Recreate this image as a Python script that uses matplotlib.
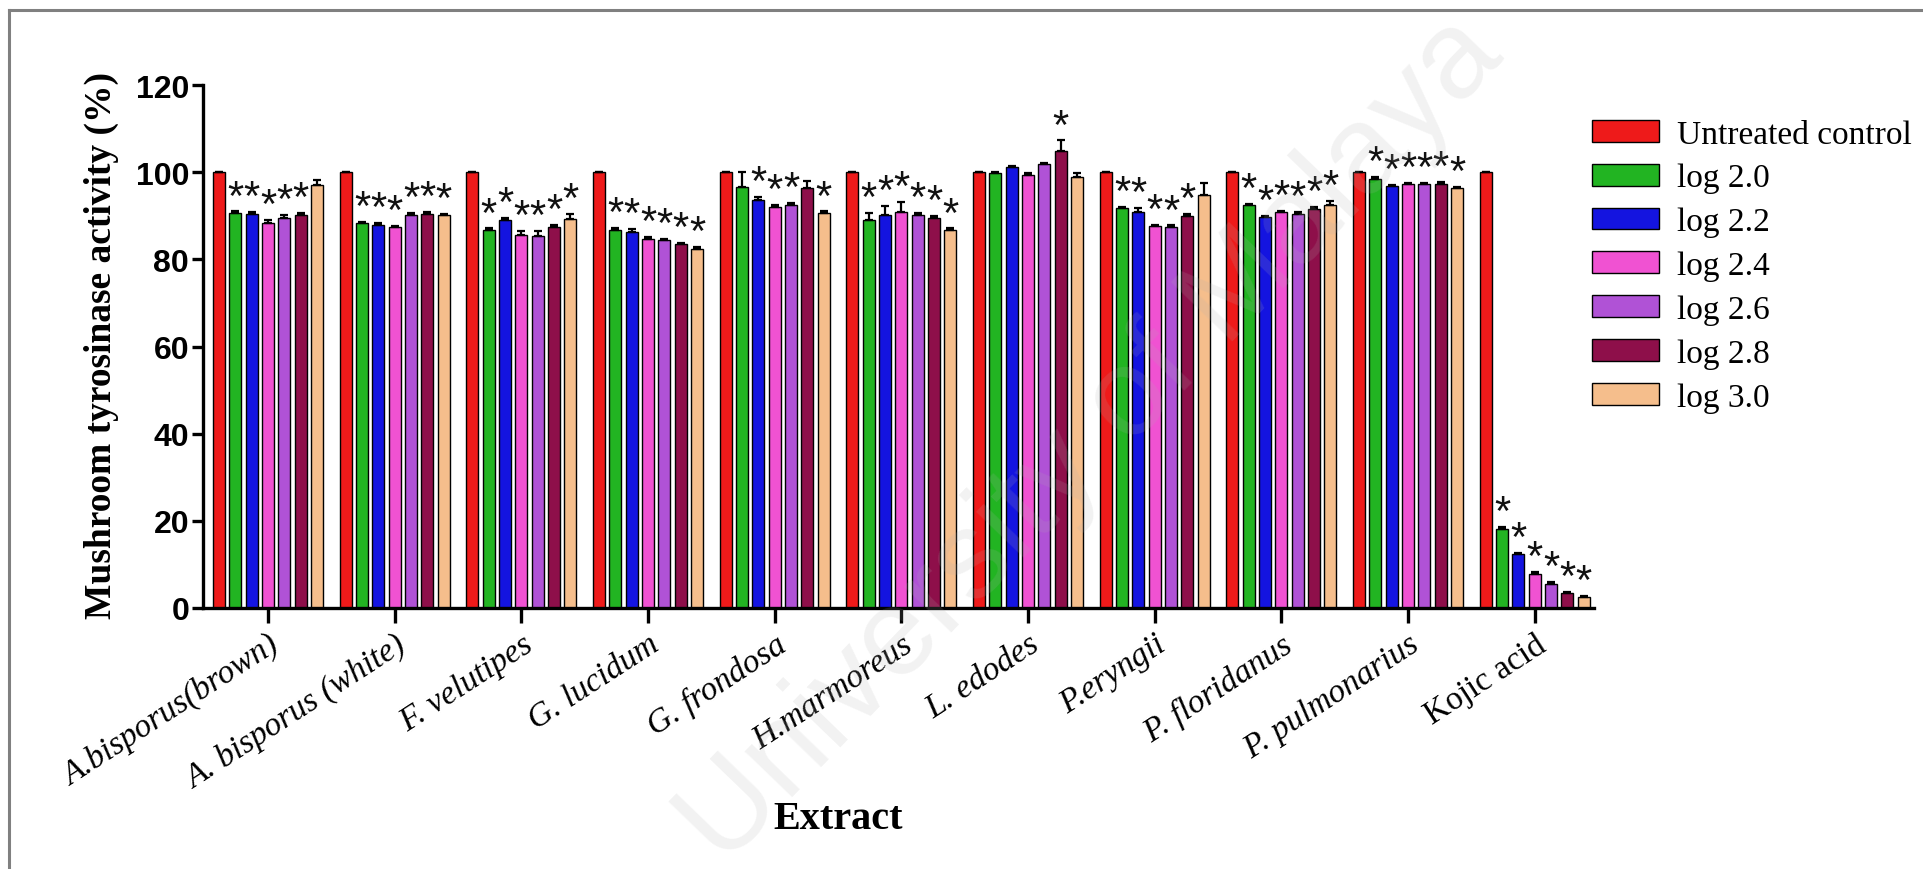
import matplotlib.pyplot as plt
import numpy as np
from matplotlib.lines import Line2D
from matplotlib.transforms import ScaledTranslation

# extracts on the x axis
extracts = ['A.bisporus(brown)', 'A. bisporus (white)', 'F. velutipes', 'G. lucidum',
            'G. frondosa', 'H.marmoreus', 'L. edodes', 'P.eryngii', 'P. floridanus',
            'P. pulmonarius', 'Kojic acid']
series = ['Untreated control', 'log 2.0', 'log 2.2', 'log 2.4', 'log 2.6', 'log 2.8', 'log 3.0']
colors = ['#EE1A1A', '#22B422', '#1414E0', '#F052D2', '#B052D6', '#8E0F4A', '#F5BE8C']

# mean activity (%) per series, one value per extract
control = [100, 100, 100, 100, 100, 100, 100, 100, 100, 100, 100]
log20 = [90.6, 88.3, 86.7, 86.8, 96.6, 89.1, 99.8, 91.7, 92.4, 98.5, 18.2]
log22 = [90.4, 88.0, 89.1, 86.4, 93.6, 90.3, 101.1, 90.8, 89.7, 96.8, 12.3]
log24 = [88.4, 87.4, 85.7, 84.7, 92.1, 90.9, 99.4, 87.6, 90.8, 97.2, 7.9]
log26 = [89.5, 90.2, 85.3, 84.4, 92.5, 90.1, 102.0, 87.5, 90.4, 97.2, 5.6]
log28 = [90.3, 90.5, 87.5, 83.5, 96.4, 89.5, 104.8, 90.0, 91.6, 97.4, 3.4]
log30 = [97.0, 90.1, 89.3, 82.4, 90.6, 86.7, 98.9, 94.8, 92.5, 96.3, 2.5]

# error bars (SEM, upper side only)
err_control = [0, 0, 0, 0, 0, 0, 0, 0, 0, 0, 0]
err20 = [0.4, 0.4, 0.4, 0.5, 3.5, 1.5, 0.3, 0.3, 0.4, 0.5, 0.4]
err22 = [0.4, 0.4, 0.4, 0.5, 0.8, 2.0, 0.4, 1.0, 0.3, 0.3, 0.4]
err24 = [0.6, 0.3, 0.8, 0.4, 0.4, 2.2, 0.4, 0.4, 0.3, 0.3, 0.4]
err26 = [0.6, 0.4, 1.2, 0.3, 0.4, 0.6, 0.2, 0.3, 0.4, 0.3, 0.4]
err28 = [0.4, 0.3, 0.4, 0.3, 1.6, 0.5, 2.5, 0.4, 0.4, 0.4, 0.3]
err30 = [1.2, 0.4, 1.2, 0.4, 0.4, 0.4, 1.0, 2.8, 1.0, 0.4, 0.3]

# significance marks (1 = asterisk)
sig_control = [0, 0, 0, 0, 0, 0, 0, 0, 0, 0, 0]
sig20 = [1, 1, 1, 1, 0, 1, 0, 1, 1, 1, 1]
sig22 = [1, 1, 1, 1, 1, 1, 0, 1, 1, 1, 1]
sig24 = [1, 1, 1, 1, 1, 1, 0, 1, 1, 1, 1]
sig26 = [1, 1, 1, 1, 1, 1, 0, 1, 1, 1, 1]
sig28 = [1, 1, 1, 1, 0, 1, 1, 1, 1, 1, 1]
sig30 = [0, 1, 1, 1, 1, 1, 0, 0, 1, 1, 1]

valores = [control, log20, log22, log24, log26, log28, log30]
erros = [err_control, err20, err22, err24, err26, err28, err30]
sigs = [sig_control, sig20, sig22, sig24, sig26, sig28, sig30]

fig = plt.figure(figsize=(19.23, 8.70), dpi=100)
ax = fig.add_axes([0.1056, 0.300, 0.829 - 0.1056, 0.601])

x = np.arange(len(extracts))
passo = 0.129
largura = 0.095
for i, nome in enumerate(series):
    pos = x + (i - 3) * passo
    v = np.array(valores[i])
    e = np.array(erros[i])
    ax.bar(pos, v, width=largura, color=colors[i], edgecolor='black', linewidth=1.0,
           label=nome, zorder=2)
    ax.errorbar(pos, v, yerr=[np.zeros_like(e), e], fmt='none', ecolor='black',
                elinewidth=1.6, capsize=3, capthick=1.6, zorder=3)
    for xp, val, er, s in zip(pos, v, e, sigs[i]):
        if s:
            ax.text(xp, val + er + 3.2, '*', ha='center', va='center', fontsize=30,
                    family='Liberation Sans', color='#111111', zorder=4)

ax.set_xlim(-0.513, 10.47)
ax.set_ylim(0, 120)
ax.set_yticks([0, 20, 40, 60, 80, 100, 120])
ax.set_xticks(x)
ax.set_xticklabels(extracts)
desloca = ScaledTranslation(26 / 100, -4 / 100, fig.dpi_scale_trans)
for k, lab in enumerate(ax.get_xticklabels()):
    lab.set_family('Liberation Serif')
    lab.set_style('normal' if k == len(extracts) - 1 else 'italic')
    lab.set_fontsize(24)
    lab.set_rotation(33)
    lab.set_ha('right')
    lab.set_va('top')
    lab.set_rotation_mode('anchor')
    lab.set_transform(lab.get_transform() + desloca)
for lab in ax.get_yticklabels():
    lab.set_family('Liberation Sans')
    lab.set_weight('bold')
    lab.set_fontsize(23)

for s in ['top', 'right']:
    ax.spines[s].set_visible(False)
for s in ['left', 'bottom']:
    ax.spines[s].set_linewidth(2.4)
ax.tick_params(axis='y', direction='out', length=8, width=2.4, pad=2)
ax.tick_params(axis='x', direction='out', length=11, width=2.4, pad=4)

fig.text(0.0525, 0.603, 'Mushroom tyrosinase activity (%)', rotation=90, ha='center',
         va='center', fontsize=27, weight='bold', family='Liberation Serif')
fig.text(0.436, 0.058, 'Extract', ha='center', va='center', fontsize=29,
         weight='bold', family='Liberation Serif')

ax.legend(loc='upper left', bbox_to_anchor=(0.828, 0.862), bbox_transform=fig.transFigure,
          frameon=False, prop={'family': 'Liberation Serif', 'size': 24},
          handlelength=2.0, handleheight=0.63, handletextpad=0.55, labelspacing=0.4,
          borderaxespad=0, borderpad=0)

# watermark
fig.text(0.568, 0.493, 'University of Malaya', rotation=46, ha='center', va='center',
         fontsize=90, family='Liberation Sans', color='#b0b0b0', alpha=0.16, zorder=10)

# moldura cinza da página
fig.add_artist(Line2D([0.0045, 1.0], [0.987, 0.987], transform=fig.transFigure,
                      color='#808080', linewidth=2.2))
fig.add_artist(Line2D([0.0045, 0.0045], [0.0, 0.987], transform=fig.transFigure,
                      color='#808080', linewidth=2.2))

fig.savefig('out.png', dpi=100)
